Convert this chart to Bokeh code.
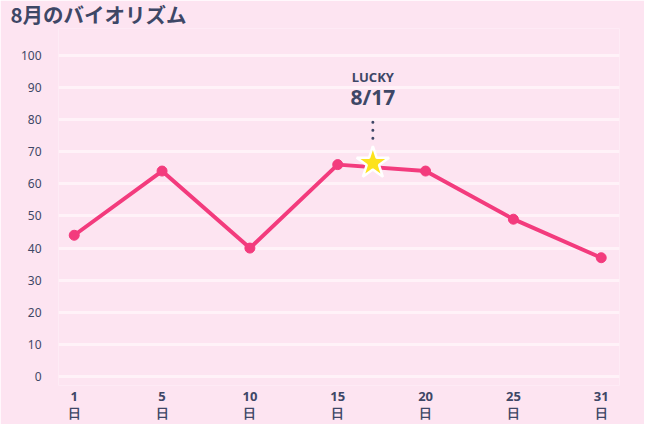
import numpy as np
from bokeh.plotting import figure
from bokeh.models import Range1d, FixedTicker, ColumnDataSource
from bokeh.core.properties import value
from bokeh.embed import file_html
from bokeh.resources import INLINE

# ---- data ----
days = [1, 5, 10, 15, 20, 25, 31]
values = [44, 64, 40, 66, 64, 49, 37]
day_labels = ["1\n日", "5\n日", "10\n日", "15\n日", "20\n日", "25\n日", "31\n日"]
y_ticks = [0, 10, 20, 30, 40, 50, 60, 70, 80, 90, 100]
lucky_day = 17
lucky_value = 66.5
lucky_label = "LUCKY"
lucky_date = "8/17"
title_text = "8月のバイオリズム"

BG = "#fde4f1"
GRID = "#fff2f8"
LINE = "#f33b7d"
TEXT = "#3e4766"
STAR = "#fde21c"

idx = list(range(len(days)))
star_x = float(np.interp(lucky_day, days, idx))
star_y = lucky_value

p = figure(width=644, height=424, output_backend="svg", toolbar_location=None,
           x_range=Range1d(-0.179, 6.208), y_range=Range1d(-2.8, 108.4),
           min_border_left=58, min_border_right=25, min_border_top=0, min_border_bottom=37,
           background_fill_color=BG, border_fill_color=BG, outline_line_color=None)

p.title.text = title_text
p.title.text_font = "Noto Sans CJK JP"
p.title.text_font_size = "20.5px"
p.title.text_font_style = "bold"
p.title.text_color = TEXT
p.title.align = "left"
p.title.vertical_align = "top"
p.title.offset = -48
p.title.standoff = -4

# grid
p.xgrid.grid_line_color = None
p.ygrid.grid_line_color = GRID
p.ygrid.grid_line_width = 3
p.ygrid.ticker = FixedTicker(ticks=y_ticks)

# y axis
p.yaxis.ticker = FixedTicker(ticks=y_ticks)
p.yaxis.axis_line_color = None
p.yaxis.major_tick_line_color = None
p.yaxis.minor_tick_line_color = None
p.yaxis.major_tick_out = 0
p.yaxis.major_tick_in = 0
p.yaxis.major_label_standoff = 17
p.yaxis.major_label_text_font = "Noto Sans"
p.yaxis.major_label_text_font_size = "12px"
p.yaxis.major_label_text_color = TEXT

# x axis
p.xaxis.ticker = FixedTicker(ticks=idx)
p.xaxis.major_label_overrides = {i: lab for i, lab in zip(idx, day_labels)}
p.xaxis.axis_line_color = None
p.xaxis.major_tick_line_color = None
p.xaxis.minor_tick_line_color = None
p.xaxis.major_tick_out = 0
p.xaxis.major_tick_in = 0
p.xaxis.major_label_standoff = 1
p.xaxis.major_label_text_font = "Noto Sans"
p.xaxis.major_label_text_font_size = "13px"
p.xaxis.major_label_text_font_style = "bold"
p.xaxis.major_label_text_color = TEXT
p.xaxis.major_label_text_line_height = 0.96

src = ColumnDataSource(dict(x=idx, y=values))
p.line("x", "y", source=src, line_color=LINE, line_width=4, line_join="round")
p.scatter("x", "y", source=src, size=10, fill_color=LINE, line_color=LINE)

# lucky marker
p.segment(x0=[star_x], y0=[star_y + 7.7], x1=[star_x], y1=[star_y + 12.9],
          line_color=TEXT, line_width=3, line_dash="0 8", line_cap="round")
p.scatter([star_x], [star_y], marker="star", size=34, fill_color=STAR,
          line_color="white", line_width=2.5)
p.text([star_x], [star_y], text=[lucky_label], text_align="center", text_baseline="middle",
       y_offset=-86, text_font=value("Noto Sans"), text_font_size="13px",
       text_font_style="bold", text_color=TEXT)
p.text([star_x], [star_y], text=[lucky_date], text_align="center", text_baseline="middle",
       y_offset=-66, text_font=value("Noto Sans"), text_font_size="21px",
       text_font_style="bold", text_color=TEXT)

open("out.html", "w").write(file_html(p, INLINE))
